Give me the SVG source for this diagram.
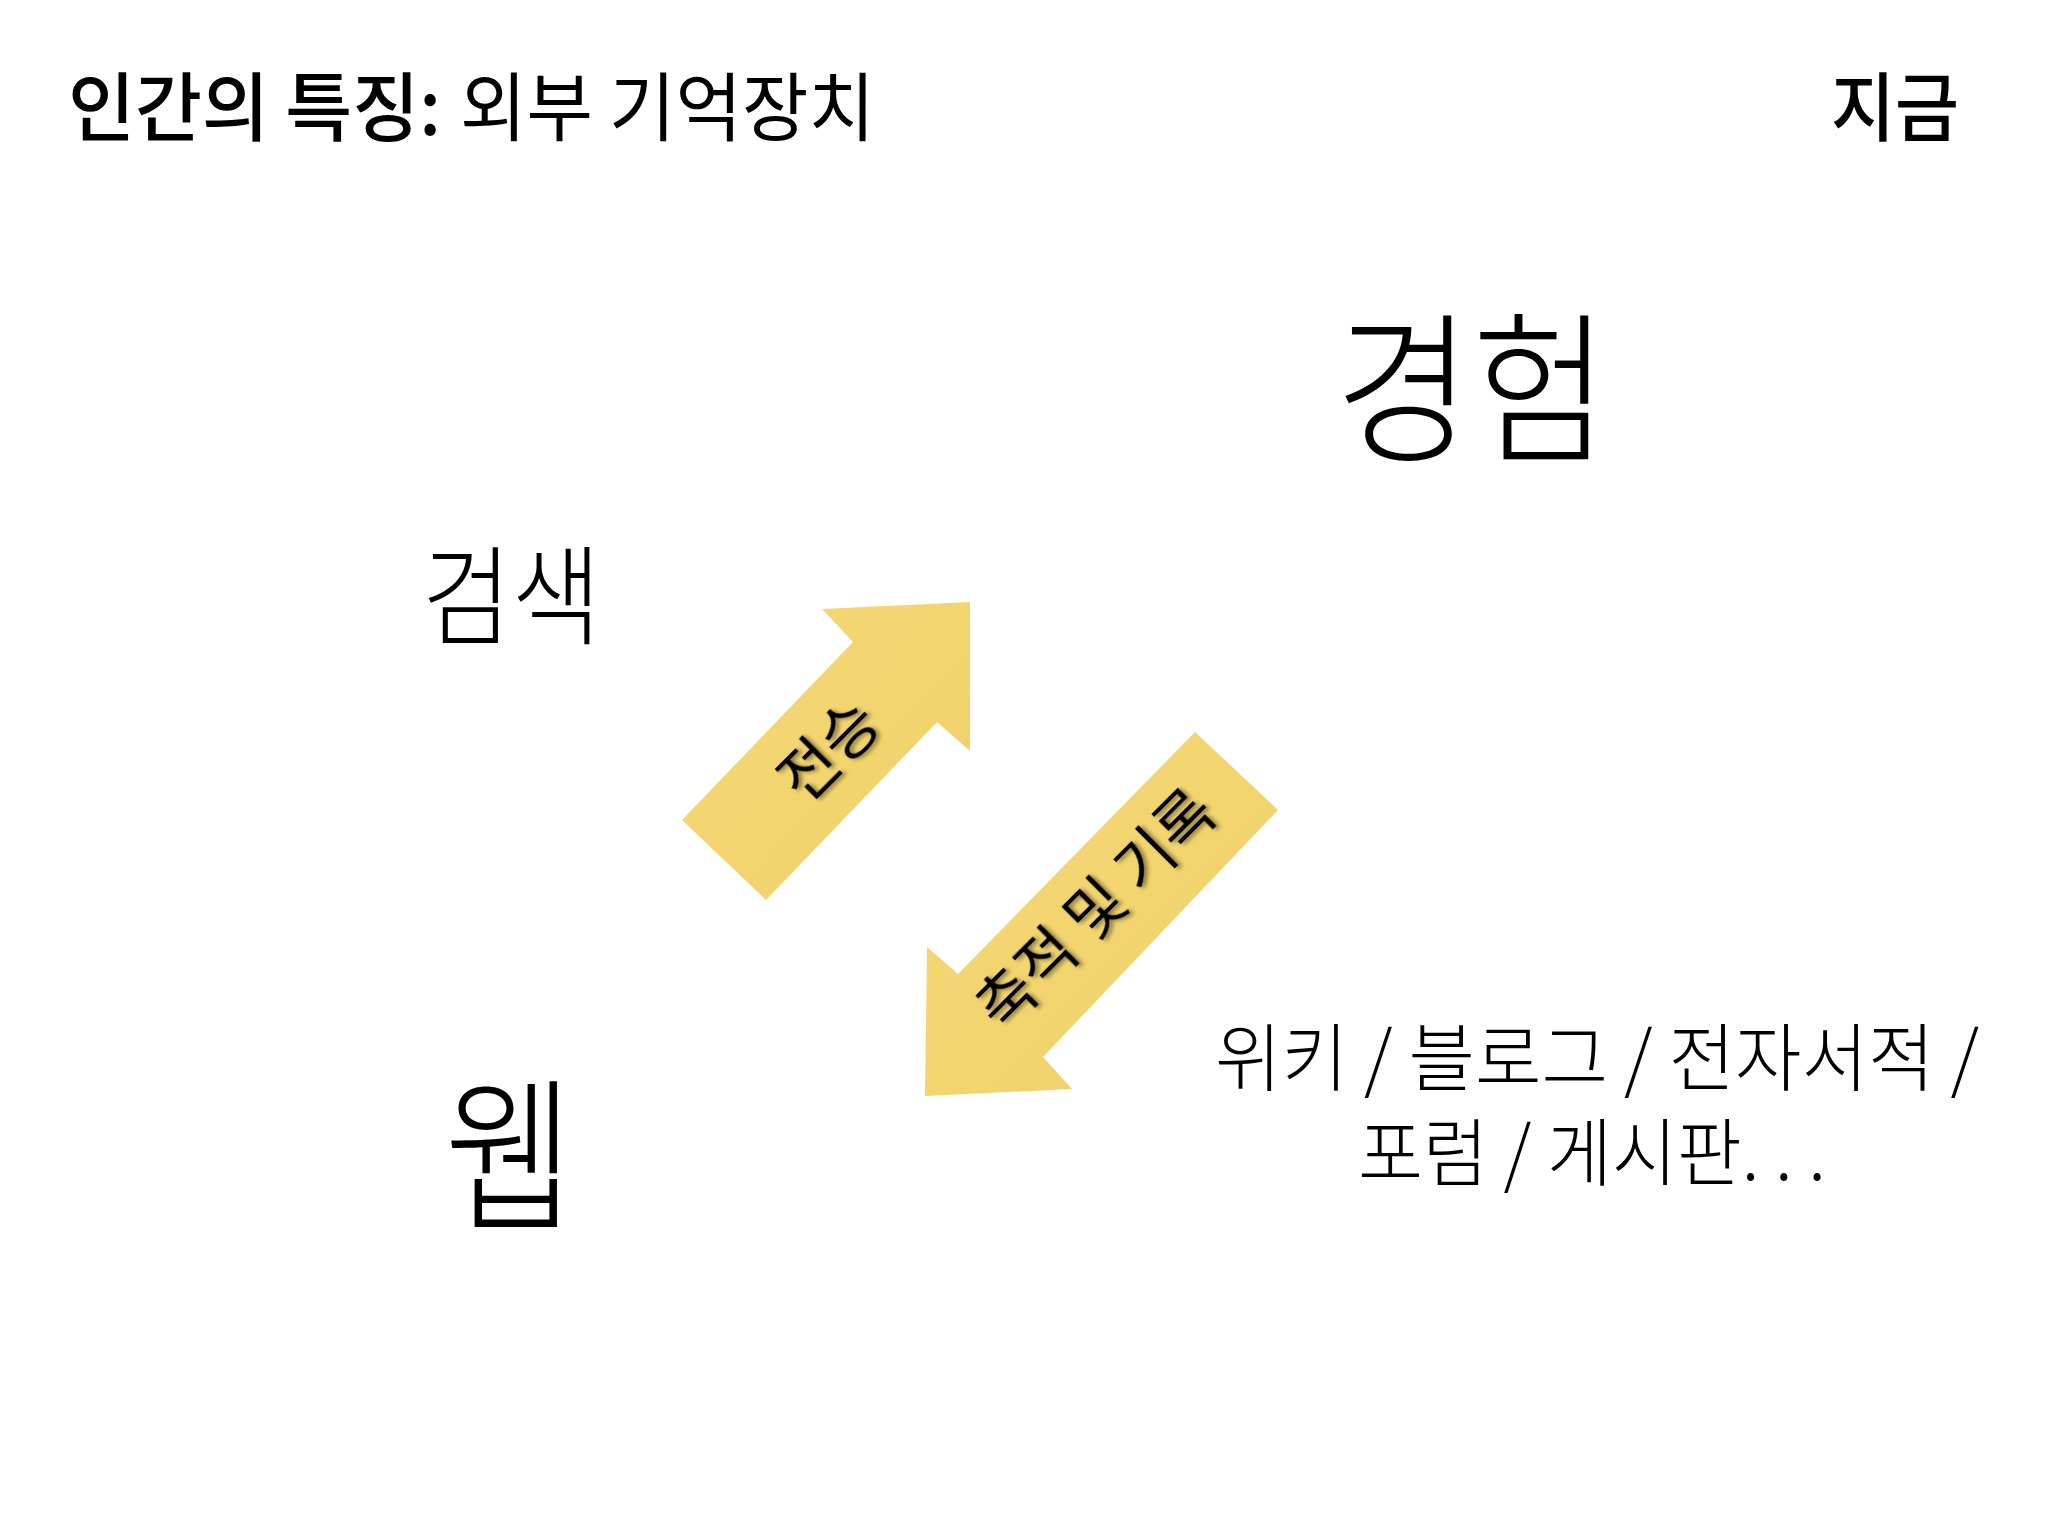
<svg xmlns="http://www.w3.org/2000/svg" width="2048" height="1536" viewBox="0 0 2048 1536">
<style>
.t{font-family:"Noto Sans CJK KR","Noto Sans",sans-serif;fill:#000}
.b{font-weight:500}
.l{font-weight:300}
.lab{font-family:"Noto Sans CJK KR","Noto Sans",sans-serif;font-weight:400;font-size:61px;fill:#000;text-anchor:middle;dominant-baseline:central;filter:url(#ts)}
.arrow{fill:url(#paper)}
</style>
<defs>
<linearGradient id="paper" x1="0" y1="0" x2="1" y2="1">
<stop offset="0" stop-color="#F3D878"/>
<stop offset="0.5" stop-color="#F2D56F"/>
<stop offset="1" stop-color="#EFD06A"/>
</linearGradient>
<filter id="ts" x="-20%" y="-20%" width="140%" height="140%">
<feDropShadow dx="2" dy="3" stdDeviation="2" flood-color="#000" flood-opacity="0.45"/>
</filter>
</defs>
<rect width="2048" height="1536" fill="#fff"/>
<g id="title">
<text class="t b" x="68" y="135" font-size="75" textLength="373" lengthAdjust="spacingAndGlyphs">인간의 특징:</text>
<text class="t" x="460" y="135" font-size="75" textLength="415" lengthAdjust="spacingAndGlyphs">외부 기억장치</text>
</g>
<g id="now">
<text class="t b" x="1831" y="135" font-size="75" textLength="128" lengthAdjust="spacingAndGlyphs">지금</text>
</g>
<g id="experience">
<text class="t l" x="1335" y="449" font-size="163" textLength="274" lengthAdjust="spacingAndGlyphs">경험</text>
</g>
<g id="search">
<text class="t l" x="422" y="636" font-size="108" textLength="179" lengthAdjust="spacingAndGlyphs">검색</text>
</g>
<g id="web">
<text class="t l" x="444" y="1217" font-size="165" textLength="131" lengthAdjust="spacingAndGlyphs">웹</text>
</g>
<g id="examples">
<text class="t l" x="1215" y="1085" font-size="74" textLength="764" lengthAdjust="spacingAndGlyphs">위키 / 블로그 / 전자서적 /</text>
<text class="t l" x="1358" y="1180" font-size="74" textLength="468" lengthAdjust="spacingAndGlyphs">포럼 / 게시판. . .</text>
</g>
<g id="connectors">
<g id="arrow-transmit">
<polygon class="arrow" points="970,602 970,751 937,722 766,900 682,820 853,642 822,609"/>
<text class="lab" transform="translate(825,747) rotate(-45)">전승</text>
</g>
<g id="arrow-accumulate">
<polygon class="arrow" points="925,1096 927,947 958,974 1195,732 1278,810 1043,1057 1072,1089"/>
<text class="lab" transform="translate(1092,906) rotate(-45)">축적 및 기록</text>
</g>
</g>
</svg>
